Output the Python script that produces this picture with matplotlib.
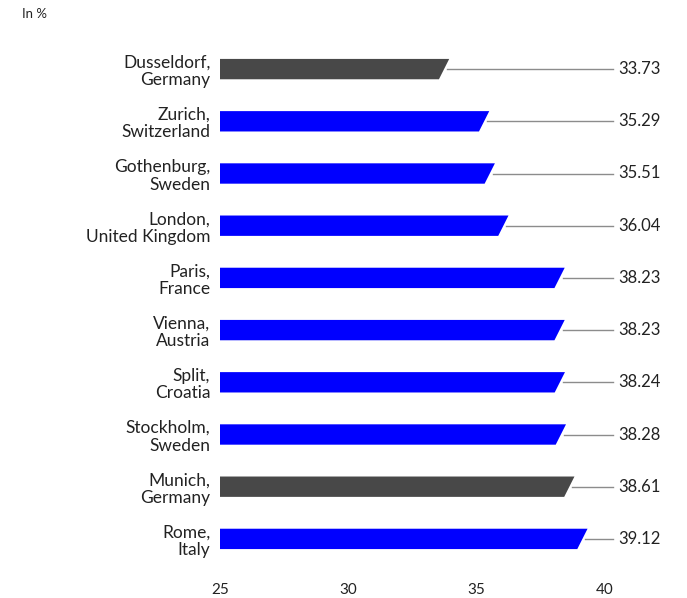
import matplotlib.pyplot as plt
import numpy as np

cities = ["Dusseldorf,\nGermany", "Zurich,\nSwitzerland", "Gothenburg,\nSweden",
          "London,\nUnited Kingdom", "Paris,\nFrance", "Vienna,\nAustria",
          "Split,\nCroatia", "Stockholm,\nSweden", "Munich,\nGermany", "Rome,\nItaly"]
values = [33.73, 35.29, 35.51, 36.04, 38.23, 38.23, 38.24, 38.28, 38.61, 39.12]
highlight = [True, False, False, False, False, False, False, False, True, False]
xticks = [25, 30, 35, 40]

BLUE = "#0000ff"
GREY = "#484848"

plt.rcParams['font.family'] = ['Lato', 'DejaVu Sans']

fig = plt.figure(figsize=(6.87, 5.98), dpi=100)
ax = fig.add_axes([220 / 687, 1 - 565 / 598, 457 / 687, 522 / 598])

ppu = (605 - 220) / 15  # pixels per unit
h = 0.39
skew = 0.2
for i, (v, hl) in enumerate(zip(values, highlight)):
    color = GREY if hl else BLUE
    xs = [25, v + skew, v - skew, 25]
    ys = [i - h / 2, i - h / 2, i + h / 2, i + h / 2]
    ax.fill(xs, ys, color=color, lw=0)
    ax.plot([v + 0.12, 25 + 393 / ppu], [i, i], color="#8c8c8c", lw=1)
    ax.text(25 + 398 / ppu, i, f"{v:.2f}", va="center", ha="left", fontsize=12, color="#222222")

ax.set_xlim(25, 25 + 457 / ppu)
ax.set_ylim(9.5, -0.5)
ax.set_yticks(range(len(cities)))
ax.set_yticklabels(cities, fontsize=12.5, linespacing=1.12, color="#222222")
ax.set_xticks(xticks)
ax.set_xticklabels([str(t) for t in xticks], fontsize=11, color="#222222")
ax.tick_params(axis="y", length=0, pad=7)
ax.tick_params(axis="x", length=0, pad=13)
for s in ax.spines.values():
    s.set_visible(False)

fig.text(22 / 687, 1 - 14 / 598, "In %", fontsize=9.5, va="center", ha="left", color="#222222")

fig.savefig("out.png", dpi=100)
